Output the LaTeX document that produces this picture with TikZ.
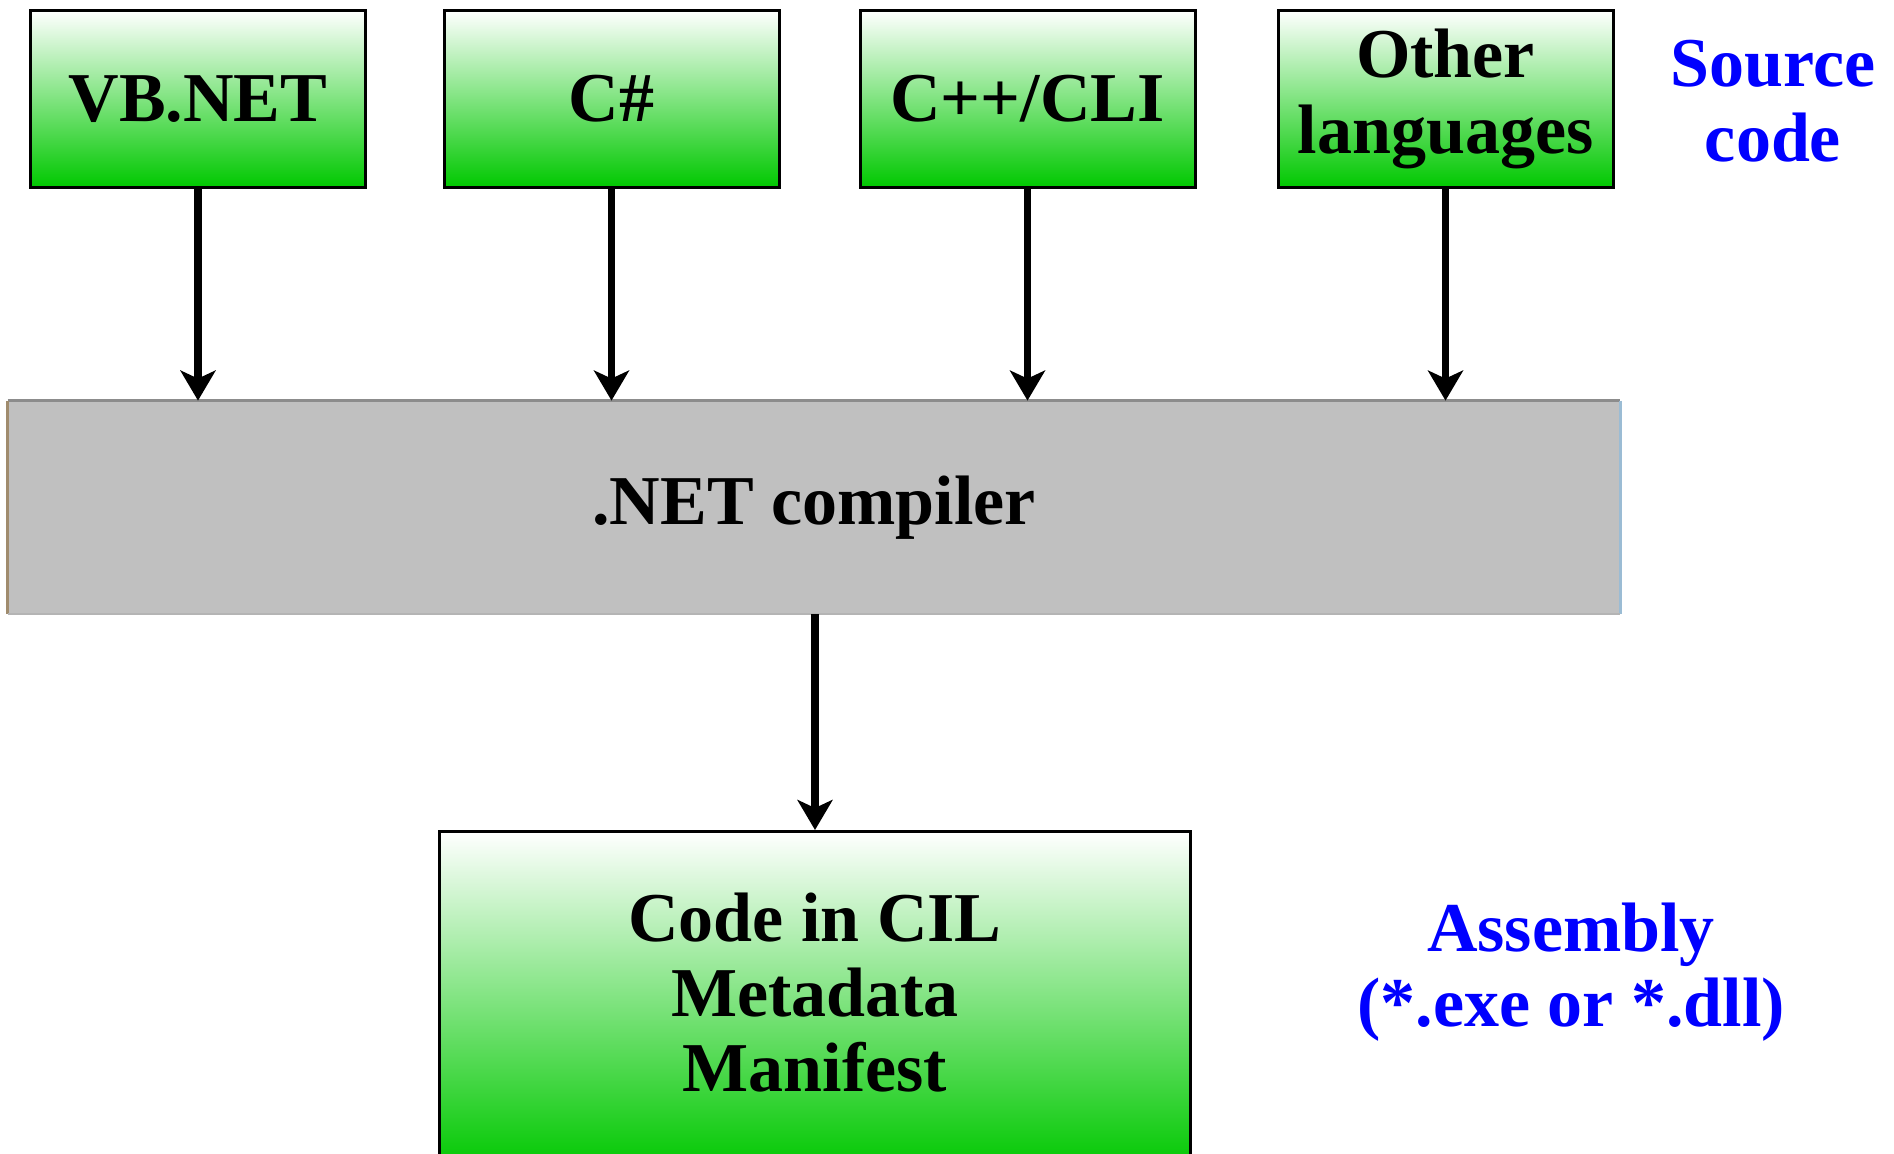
\documentclass[tikz,border=0pt]{standalone}
\usepackage{fontspec}
\setmainfont{Liberation Serif}
\usetikzlibrary{arrows.meta}
\definecolor{boxgreen}{RGB}{0,200,0}
\definecolor{compgray}{RGB}{192,192,192}
\definecolor{comptop}{RGB}{140,140,140}
\definecolor{compleft}{RGB}{160,140,110}
\definecolor{compright}{RGB}{155,188,212}
\definecolor{compbottom}{RGB}{180,180,180}
\definecolor{labelblue}{RGB}{0,0,255}
\begin{document}
\begin{tikzpicture}[x=0.5pt,y=-0.5pt,
  srcbox/.style={draw=black, line width=1.5pt, top color=white, bottom color=boxgreen,
    minimum width=167.5pt, minimum height=88.5pt, inner sep=0pt, align=center,
    font=\fontsize{35}{38}\selectfont\bfseries},
  compbox/.style={fill=compgray, minimum width=806pt, minimum height=106.5pt, inner sep=0pt,
    font=\fontsize{35}{38}\selectfont\bfseries},
  asmbox/.style={draw=black, line width=1.5pt, top color=white, bottom color=boxgreen,
    minimum width=375.5pt, minimum height=169.25pt, inner sep=0pt},
  boxtext/.style={align=center, inner sep=0pt, font=\fontsize{35}{37.5}\selectfont\bfseries},
  bluelabel/.style={align=center, inner sep=0pt, text=labelblue,
    font=\fontsize{35}{37.5}\selectfont\bfseries},
  arr/.style={line width=3.6pt, -{Stealth[length=15pt,width=17.5pt,inset=4pt]}}
]
\useasboundingbox (0,0) rectangle (1894,1154);
\clip (0,0) rectangle (1894,1154);
\fill[white] (0,0) rectangle (1894,1154);

% source boxes
\node[srcbox] (vb)    at (198,99)    {VB.NET};
\node[srcbox] (cs)    at (611.5,99)  {C\#};
\node[srcbox] (cpp)   at (1027.5,99) {C++/CLI};
\node[srcbox] (other) at (1445.5,99) {Other\\languages};

% compiler
\node[compbox] (comp) at (814,507.5) {.NET compiler};
\draw[comptop, line width=1.5pt] (comp.north west) -- (comp.north east);
\draw[compleft, line width=1.5pt] (comp.north west) -- (comp.south west);
\draw[compright, line width=1.5pt] (comp.north east) -- (comp.south east);
\draw[compbottom, line width=1pt] (comp.south west) -- (comp.south east);

% assembly box
\node[asmbox] (asm) at (815,1000.75) {};
\node[boxtext] (asmtext) at (815,993) {Code in CIL\\Metadata\\Manifest};

% labels
\node[bluelabel] (srclabel) at (1773,101) {Source\\code};
\node[bluelabel] (asmlabel) at (1571,972) {Assembly\\(*.exe or *.dll)};

% arrows
\draw[arr] (vb.south)    -- (vb.south |- comp.north);
\draw[arr] (cs.south)    -- (cs.south |- comp.north);
\draw[arr] (cpp.south)   -- (cpp.south |- comp.north);
\draw[arr] (other.south) -- (other.south |- comp.north);
\draw[arr] (asm.north |- comp.south) -- (asm.north);
\end{tikzpicture}
\end{document}
